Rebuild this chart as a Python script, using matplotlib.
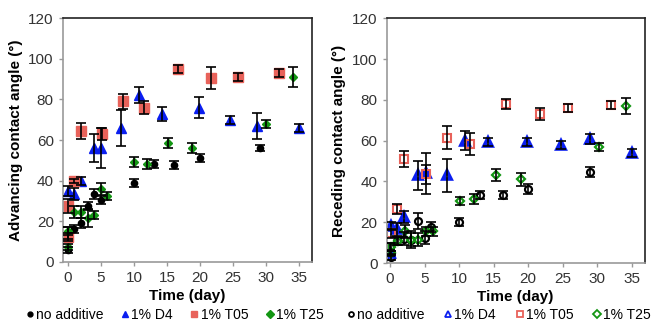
import numpy as np
import matplotlib
matplotlib.use('Agg')
import matplotlib.pyplot as plt
from matplotlib.lines import Line2D

plt.rcParams['font.family'] = ['Liberation Sans', 'DejaVu Sans']

# ---- advancing contact angle (left panel) ----
adv_none_t = [0, 0.1, 1, 2, 3, 4, 5, 10, 13, 16, 20, 29]
adv_none_y = [6, 14, 16, 19, 27.5, 33.5, 30.5, 39, 48, 47.5, 51, 56]
adv_none_e = [1.5, 3, 2, 2.5, 2, 2.5, 2, 2, 2, 2, 2, 1.5]

adv_d4_t = [0.1, 1, 2, 4, 5, 8, 10.8, 14.2, 19.8, 24.5, 28.6, 35]
adv_d4_y = [35, 33.5, 40, 56, 56, 66, 82, 73, 76, 70, 67, 66]
adv_d4_e = [2.5, 3, 2, 7, 10, 9, 4, 3.5, 5, 2, 6.5, 2]

adv_t05_t = [0, 0, 1, 2, 5.2, 8.4, 11.5, 16.7, 21.6, 25.8, 31.9]
adv_t05_y = [12, 27.5, 40, 64.5, 63, 79, 76, 95, 90.5, 91, 93]
adv_t05_e = [2, 3.5, 1, 4, 3, 3.5, 3, 2, 5.5, 2, 2]

adv_t25_t = [0, 0.1, 1, 2, 3, 4, 5, 6, 10, 12, 15.2, 18.8, 30, 34]
adv_t25_y = [7.5, 15, 24.5, 24.5, 21.5, 23, 36, 32.5, 49, 48, 58.5, 56, 68, 91]
adv_t25_e = [1.5, 2, 3, 3, 4.5, 2, 3, 2, 2.5, 2.5, 2.5, 2.5, 2, 5]

# ---- receding contact angle (right panel) ----
rec_none_t = [0.1, 0, 1, 2, 3, 4, 5, 6, 10, 13, 16.3, 20, 29]
rec_none_y = [3, 8, 11, 12, 11.5, 20.5, 12.5, 17.5, 20, 33.5, 33.5, 36.5, 44.5]
rec_none_e = [1.5, 2, 2, 3, 4, 4, 3, 2.5, 2, 2, 2, 2.5, 2.5]

rec_d4_t = [0, 0.1, 1, 2, 4.1, 5.2, 8.2, 10.9, 14.2, 19.9, 24.8, 29, 35]
rec_d4_y = [5, 18, 16.5, 22.5, 43, 44, 43, 60, 59.5, 59.5, 58, 61, 54]
rec_d4_e = [1.5, 2, 3, 3, 7, 10, 8, 4.5, 2, 2, 2, 2.5, 2]

rec_t05_t = [0.1, 1, 2, 5.2, 8.3, 11.6, 16.8, 21.7, 25.8, 32]
rec_t05_y = [14.5, 26.5, 51, 43.5, 61.5, 58.5, 78, 73, 76, 77.5]
rec_t05_e = [2, 2.5, 4, 4.5, 5.5, 5.5, 2.5, 3, 2, 2]

rec_t25_t = [0.1, 0.1, 1.2, 2.2, 3.1, 4.1, 5.2, 6.2, 10.1, 12.2, 15.3, 18.9, 30.3, 34.2]
rec_t25_y = [5, 8, 11, 15.5, 11.5, 11.5, 15.5, 15.5, 30.5, 31.5, 43, 41, 57, 77]
rec_t25_e = [1, 2, 2, 3, 3, 3, 2, 2, 2, 2.5, 3, 3, 2, 4]

labels = ['no additive', '1% D4', '1% T05', '1% T25']
red = '#E8625A'
blue = '#0A1EF0'
green = '#139613'
colors = ['black', blue, red, green]
markers = ['o', '^', 's', 'D']
sizes = [4.5, 7, 6.5, 4.5]
# hollow markers on the right panel
sizes2 = [5, 6, 6, 4.5]
widths2 = [1.6, 2.6, 1.5, 1.6]

fig = plt.figure(figsize=(6.54, 3.26), dpi=100)
ax1 = fig.add_axes([0.096, 0.197, 0.381, 0.747])
ax2 = fig.add_axes([0.591, 0.193, 0.395, 0.751])

adv = [(adv_none_t, adv_none_y, adv_none_e), (adv_d4_t, adv_d4_y, adv_d4_e),
       (adv_t05_t, adv_t05_y, adv_t05_e), (adv_t25_t, adv_t25_y, adv_t25_e)]
rec = [(rec_none_t, rec_none_y, rec_none_e), (rec_d4_t, rec_d4_y, rec_d4_e),
       (rec_t05_t, rec_t05_y, rec_t05_e), (rec_t25_t, rec_t25_y, rec_t25_e)]

for i, (t, y, e) in enumerate(adv):
    ax1.plot(t, y, linestyle='none', marker=markers[i], ms=sizes[i],
             mfc=colors[i], mec=colors[i], zorder=2)
    ax1.errorbar(t, y, yerr=e, fmt='none', ecolor='black', elinewidth=1.2,
                 capsize=3.5, capthick=1.2, zorder=3)

for i, (t, y, e) in enumerate(rec):
    ax2.plot(t, y, linestyle='none', marker=markers[i], ms=sizes2[i],
             mfc='none', mec=colors[i], mew=widths2[i], zorder=2)
    ax2.errorbar(t, y, yerr=e, fmt='none', ecolor='black', elinewidth=1.2,
                 capsize=3.5, capthick=1.2, zorder=3)

for ax, xl, yl in [(ax1, (-0.75, 36.9), 'Advancing contact angle (°)'),
                   (ax2, (-0.5, 36.9), 'Receding contact angle (°)')]:
    ax.set_xlim(*xl)
    ax.set_ylim(0, 120)
    ax.set_xticks(np.arange(0, 36, 5))
    ax.set_yticks(np.arange(0, 121, 20))
    ax.set_xlabel('Time (day)', fontsize=11, fontweight='bold', labelpad=3)
    ax.set_ylabel(yl, fontsize=11, fontweight='bold', labelpad=4)
    ax.tick_params(labelsize=11, colors='#999999', labelcolor='#333333',
                   length=3, width=1)
    for s in ['left', 'bottom']:
        ax.spines[s].set_color('#999999')
        ax.spines[s].set_linewidth(1.2)
    for s in ['top', 'right']:
        ax.spines[s].set_color('#222222')
        ax.spines[s].set_linewidth(1.2)

leg_sizes = [3.5, 5, 5, 4]
h1 = [Line2D([], [], ls='none', marker=markers[i], ms=leg_sizes[i],
             mfc=colors[i], mec=colors[i]) for i in range(4)]
h2 = [Line2D([], [], ls='none', marker=markers[i], ms=leg_sizes[i],
             mfc='none', mec=colors[i], mew=1.3) for i in range(4)]
fig.legend(h1, labels, loc='center', bbox_to_anchor=(0.266, 0.035), ncol=4,
           frameon=False, fontsize=10, handletextpad=0.05, columnspacing=1.15,
           handlelength=0.8, borderpad=0.1)
fig.legend(h2, labels, loc='center right', bbox_to_anchor=(1.0, 0.035), ncol=4,
           frameon=False, fontsize=10, handletextpad=0.05, columnspacing=1.3,
           handlelength=0.8, borderpad=0.1, borderaxespad=0.1)

fig.savefig('out.png', dpi=100)
